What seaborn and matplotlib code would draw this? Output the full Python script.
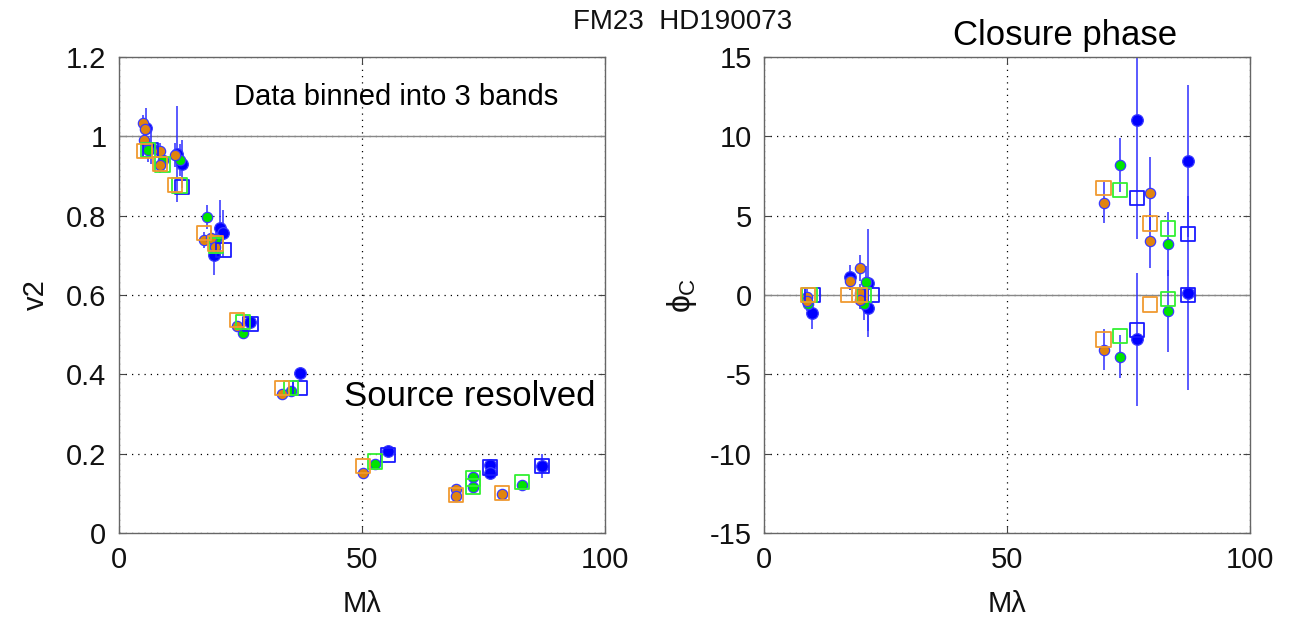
import numpy as np
import pandas as pd
import matplotlib
matplotlib.use("Agg")
import matplotlib.pyplot as plt
import seaborn as sns

# ---------------- data ----------------
bands = ["blue", "green", "orange"]
band_colors = {"blue": "#0000ff", "green": "#00e400", "orange": "#e0840e"}
square_colors = {"blue": "#1a1aff", "green": "#33f033", "orange": "#f09a30"}

# Left panel: squared visibility (data circles with errors, model squares)
v2_blue_x = [5.5, 6.5, 12.0, 13.0, 20.8, 21.5, 19.5, 27.0, 37.2, 55.3, 76.3, 76.3, 87.0]
v2_blue_y = [1.02, 0.97, 0.955, 0.93, 0.769, 0.755, 0.70, 0.532, 0.403, 0.207, 0.171, 0.152, 0.169]
v2_blue_e = [0.05, 0.04, 0.12, 0.06, 0.07, 0.06, 0.05, 0.012, 0.012, 0.008, 0.01, 0.01, 0.03]
v2_blue_mx = [6.5, 13.0, 21.5, 27.0, 37.2, 55.3, 76.3, 87.0]
v2_blue_my = [0.965, 0.872, 0.713, 0.527, 0.366, 0.197, 0.165, 0.169]

v2_green_x = [6.0, 9.0, 12.5, 18.1, 20.0, 25.5, 35.4, 52.7, 72.8, 72.8, 82.9]
v2_green_y = [0.965, 0.94, 0.94, 0.797, 0.74, 0.504, 0.358, 0.174, 0.141, 0.116, 0.121]
v2_green_e = [0.03, 0.03, 0.04, 0.03, 0.03, 0.01, 0.01, 0.006, 0.006, 0.006, 0.005]
v2_green_mx = [6.0, 9.0, 12.5, 20.0, 25.5, 35.4, 52.7, 72.8, 72.8, 82.9]
v2_green_my = [0.965, 0.928, 0.875, 0.725, 0.532, 0.366, 0.181, 0.138, 0.118, 0.129]

v2_orange_x = [5.0, 5.4, 5.2, 8.4, 8.4, 11.5, 17.5, 19.0, 19.8, 24.3, 33.5, 50.2, 69.3, 69.3, 78.8]
v2_orange_y = [1.033, 1.018, 0.99, 0.963, 0.928, 0.953, 0.739, 0.744, 0.721, 0.522, 0.350, 0.151, 0.111, 0.093, 0.099]
v2_orange_e = [0.02, 0.02, 0.02, 0.02, 0.02, 0.03, 0.02, 0.02, 0.02, 0.01, 0.008, 0.006, 0.006, 0.006, 0.005]
v2_orange_mx = [5.2, 8.4, 11.5, 17.5, 19.8, 24.3, 33.5, 50.2, 69.3, 78.8]
v2_orange_my = [0.963, 0.93, 0.877, 0.756, 0.73, 0.537, 0.366, 0.169, 0.096, 0.101]

# Right panel: closure phase
cp_blue_x = [9.9, 17.7, 21.4, 21.4, 76.7, 76.7, 87.2, 87.2]
cp_blue_y = [-1.15, 1.1, 0.75, -0.8, 11.0, -2.8, 8.45, 0.1]
cp_blue_e = [1.0, 0.8, 3.4, 1.5, 7.5, 4.2, 4.8, 6.1]
cp_blue_mx = [9.9, 22.2, 76.7, 76.7, 87.2, 87.2]
cp_blue_my = [0.0, 0.0, 6.1, -2.2, 3.85, 0.0]

cp_green_x = [9.1, 21.0, 20.5, 73.2, 73.2, 83.1, 83.1]
cp_green_y = [-0.6, 0.8, -0.6, 8.2, -3.9, 3.2, -1.0]
cp_green_e = [0.8, 1.0, 1.0, 1.7, 1.35, 2.0, 2.6]
cp_green_mx = [9.3, 20.5, 73.2, 73.2, 83.1, 83.1]
cp_green_my = [0.0, 0.0, 6.6, -2.6, 4.2, -0.25]

cp_orange_x = [8.9, 8.9, 17.7, 19.8, 19.8, 19.8, 69.8, 69.8, 79.4, 79.4]
cp_orange_y = [-0.15, -0.4, 0.9, 1.7, 0.1, -0.3, 5.8, -3.45, 6.4, 3.4]
cp_orange_e = [0.6, 0.6, 0.6, 0.8, 0.6, 0.6, 1.3, 1.3, 2.3, 1.7]
cp_orange_mx = [9.0, 17.3, 19.6, 69.8, 69.8, 79.4, 79.4]
cp_orange_my = [0.0, 0.0, 0.0, 6.74, -2.8, 4.5, -0.6]

v2_xticks = [0, 50, 100]
v2_yticks = [0, 0.2, 0.4, 0.6, 0.8, 1.0, 1.2]
v2_yticklabels = ["0", "0.2", "0.4", "0.6", "0.8", "1", "1.2"]
cp_yticks = [-15, -10, -5, 0, 5, 10, 15]
cp_yticklabels = ["-15", "-10", "-5", "0", "5", "10", "15"]

title_text = "FM23  HD190073"
left_note = "Data binned into 3 bands"
left_note2 = "Source resolved"
right_title = "Closure phase"

# ---------------- style ----------------
sns.set_theme(style="ticks")
plt.rcParams["font.family"] = ["Liberation Sans", "DejaVu Sans"]
plt.rcParams["mathtext.fontset"] = "custom"
plt.rcParams["mathtext.rm"] = "Liberation Sans"
plt.rcParams["mathtext.it"] = "Liberation Sans"

fig = plt.figure(figsize=(12.93, 6.17), dpi=100)
axL = fig.add_axes([0.092, 0.136, 0.376, 0.772])
axR = fig.add_axes([0.591, 0.136, 0.376, 0.772])

ERR_COLOR = "#2f2fff"
EDGE = "#3a3aff"


def draw_panel(ax, series):
    # error bars first
    for b, (x, y, e, mx, my) in series.items():
        ax.errorbar(x, y, yerr=e, fmt="none", ecolor=ERR_COLOR, elinewidth=1.3,
                    capsize=0, alpha=0.85, zorder=2)
    for b, (x, y, e, mx, my) in series.items():
        df = pd.DataFrame({"x": x, "y": y})
        sns.scatterplot(data=df, x="x", y="y", ax=ax, color=band_colors[b], marker="o",
                        s=70 if b == "blue" else 55, edgecolor=EDGE, linewidth=0.9,
                        legend=False, zorder=4)
        dm = pd.DataFrame({"x": mx, "y": my})
        sns.scatterplot(data=dm, x="x", y="y", ax=ax, marker="s", s=110,
                        facecolor="none", edgecolor=square_colors[b], linewidth=1.3,
                        legend=False, zorder=5)


draw_panel(axL, {
    "blue": (v2_blue_x, v2_blue_y, v2_blue_e, v2_blue_mx, v2_blue_my),
    "green": (v2_green_x, v2_green_y, v2_green_e, v2_green_mx, v2_green_my),
    "orange": (v2_orange_x, v2_orange_y, v2_orange_e, v2_orange_mx, v2_orange_my),
})
draw_panel(axR, {
    "blue": (cp_blue_x, cp_blue_y, cp_blue_e, cp_blue_mx, cp_blue_my),
    "green": (cp_green_x, cp_green_y, cp_green_e, cp_green_mx, cp_green_my),
    "orange": (cp_orange_x, cp_orange_y, cp_orange_e, cp_orange_mx, cp_orange_my),
})

TICK_FS = 21
for ax, yt, ytl, ylim in [(axL, v2_yticks, v2_yticklabels, (0, 1.2)),
                          (axR, cp_yticks, cp_yticklabels, (-15, 15))]:
    ax.set_xlim(0, 100)
    ax.set_ylim(*ylim)
    ax.set_xticks(v2_xticks)
    ax.set_xticklabels([str(t) for t in v2_xticks])
    ax.set_yticks(yt)
    ax.set_yticklabels(ytl)
    ax.tick_params(direction="in", length=5, width=0.8, color="#444444",
                   labelsize=TICK_FS, pad=9, top=True, right=True, labelcolor="#111111")
    for sp in ax.spines.values():
        sp.set_visible(True)
        sp.set_color("#666666")
        sp.set_linewidth(1.0)
    ax.grid(True, linestyle=(0, (1, 4)), color="black", linewidth=0.9)
    ax.set_axisbelow(True)
    ax.set_facecolor("white")
    ax.set_xlabel("M\u03bb", fontsize=TICK_FS, labelpad=12, color="#111111")

axL.axhline(1.0, color="#888888", linewidth=1.0, zorder=1)
axR.axhline(0.0, color="#888888", linewidth=1.0, zorder=1)

axL.set_ylabel("v2", fontsize=TICK_FS, labelpad=12, color="#111111")
axR.set_ylabel(r"$\phi_\mathrm{C}$", fontsize=TICK_FS + 2, labelpad=8, color="#111111")

axL.text(23.7, 1.099, left_note, fontsize=21, va="center", ha="left", color="black")
axL.text(46.3, 0.345, left_note2, fontsize=25, va="center", ha="left", color="black",
         zorder=10)
fig.text(0.824, 0.942, right_title, fontsize=25, ha="center", va="center", color="black")
fig.text(0.528, 0.964, title_text, fontsize=20, ha="center", va="center", color="#111111")

fig.savefig("out.png", dpi=100, facecolor="white")
